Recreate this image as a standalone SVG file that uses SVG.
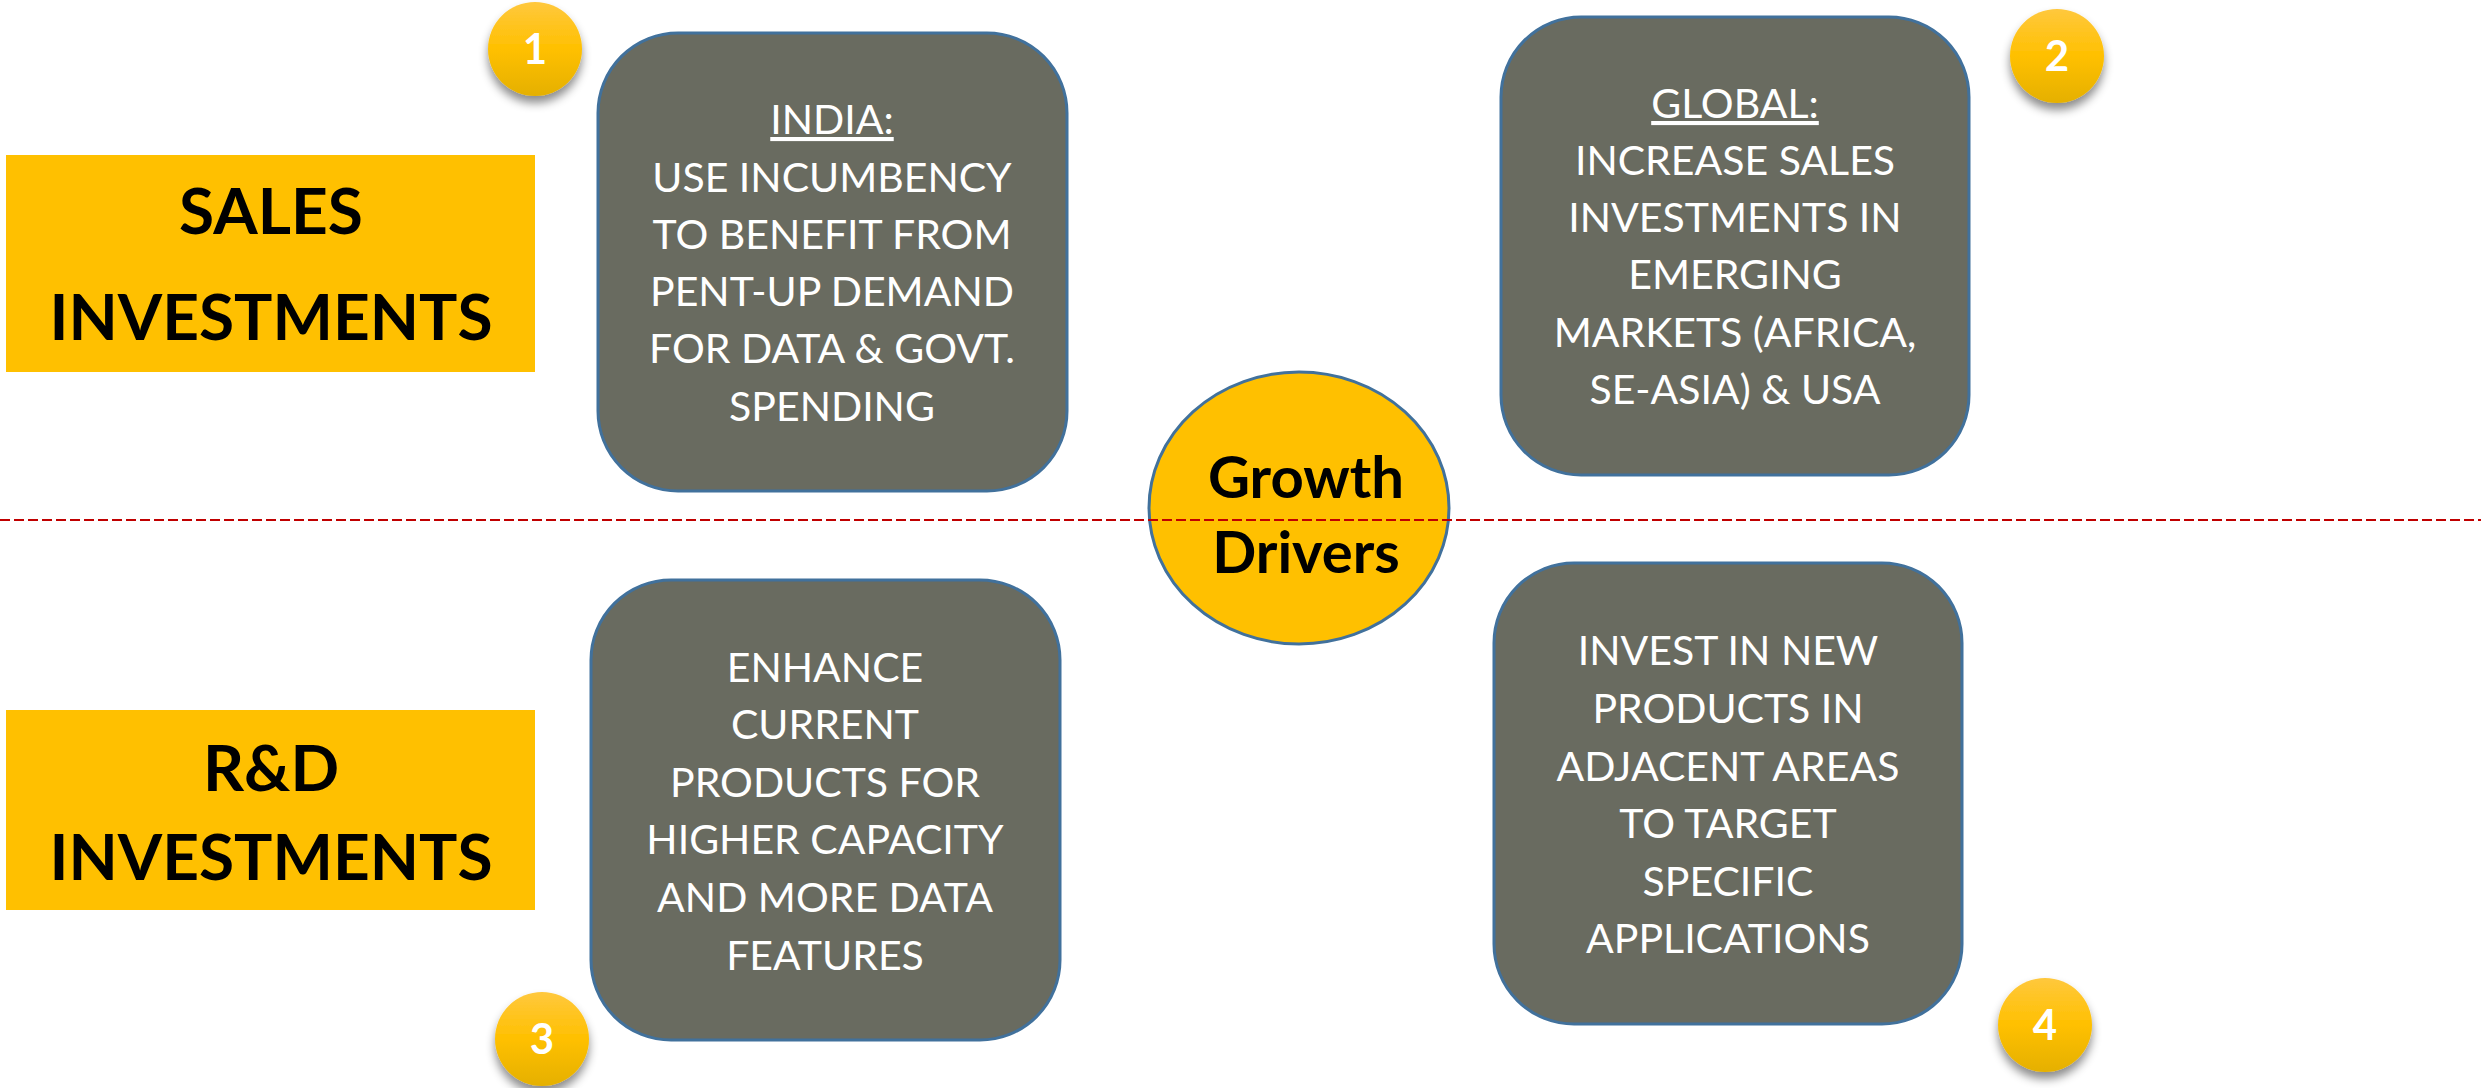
<svg xmlns="http://www.w3.org/2000/svg" width="2481" height="1088" viewBox="0 0 2481 1088">
<defs>
<style>
.lbl{fill:#FFC000}
.lbltxt{font-family:Lato,"Noto Sans",sans-serif;font-weight:bold;font-size:64px;fill:#000;text-anchor:middle}
.box{fill:#696B60;stroke:#41719C;stroke-width:3}
.bt{font-family:Lato,"Noto Sans",sans-serif;font-size:41px;fill:#fff;text-anchor:middle}
.num{font-family:Lato,"Noto Sans",sans-serif;font-weight:bold;font-size:42px;fill:#fff;text-anchor:middle}
.core{fill:#FFC000;stroke:#41719C;stroke-width:3}
.coretxt{font-family:Lato,"Noto Sans",sans-serif;font-weight:bold;font-size:58px;fill:#000;text-anchor:middle}
</style>
<linearGradient id="badgeGrad" x1="0" y1="0" x2="0" y2="1">
<stop offset="0" stop-color="#FFC83D"/>
<stop offset="0.5" stop-color="#FFC000"/>
<stop offset="1" stop-color="#E5B000"/>
</linearGradient>
<filter id="sh" x="-40%" y="-40%" width="180%" height="190%">
<feDropShadow dx="0" dy="7" stdDeviation="5" flood-color="#000" flood-opacity="0.45"/>
</filter>
</defs>
<rect width="2481" height="1088" fill="#fff"/>

<g id="sales-label">
<rect class="lbl" x="6" y="155" width="529" height="217"/>
<text class="lbltxt" x="271" y="234">SALES</text>
<text class="lbltxt" x="271" y="340">INVESTMENTS</text>
</g>

<g id="rd-label">
<rect class="lbl" x="6" y="710" width="529" height="200"/>
<text class="lbltxt" x="271" y="791">R&amp;D</text>
<text class="lbltxt" x="271" y="880">INVESTMENTS</text>
</g>

<g id="india">
<rect class="box" x="598" y="33" width="469" height="458" rx="80" ry="80"/>
<text class="bt" x="832" y="134" text-decoration="underline">INDIA:</text>
<text class="bt" x="832" y="192">USE INCUMBENCY</text>
<text class="bt" x="832" y="249">TO BENEFIT FROM</text>
<text class="bt" x="832" y="306">PENT-UP DEMAND</text>
<text class="bt" x="832" y="363">FOR DATA &amp; GOVT.</text>
<text class="bt" x="832" y="421">SPENDING</text>
</g>

<g id="global">
<rect class="box" x="1501" y="17" width="468" height="458" rx="80" ry="80"/>
<text class="bt" x="1735" y="118" text-decoration="underline">GLOBAL:</text>
<text class="bt" x="1735" y="175">INCREASE SALES</text>
<text class="bt" x="1735" y="232">INVESTMENTS IN</text>
<text class="bt" x="1735" y="289">EMERGING</text>
<text class="bt" x="1735" y="347">MARKETS (AFRICA,</text>
<text class="bt" x="1735" y="404">SE-ASIA) &amp; USA</text>
</g>

<g id="enhance">
<rect class="box" x="591" y="580" width="469" height="460" rx="80" ry="80"/>
<text class="bt" x="825" y="682">ENHANCE</text>
<text class="bt" x="825" y="739">CURRENT</text>
<text class="bt" x="825" y="797">PRODUCTS FOR</text>
<text class="bt" x="825" y="854">HIGHER CAPACITY</text>
<text class="bt" x="825" y="912">AND MORE DATA</text>
<text class="bt" x="825" y="970">FEATURES</text>
</g>

<g id="invest">
<rect class="box" x="1494" y="563" width="468" height="461" rx="80" ry="80"/>
<text class="bt" x="1728" y="665">INVEST IN NEW</text>
<text class="bt" x="1728" y="723">PRODUCTS IN</text>
<text class="bt" x="1728" y="781">ADJACENT AREAS</text>
<text class="bt" x="1728" y="838">TO TARGET</text>
<text class="bt" x="1728" y="896">SPECIFIC</text>
<text class="bt" x="1728" y="953">APPLICATIONS</text>
</g>

<g id="growth-drivers">
<ellipse class="core" cx="1299" cy="508" rx="150" ry="136"/>
<text class="coretxt" x="1306" y="498">Growth</text>
<text class="coretxt" x="1306" y="573">Drivers</text>
</g>

<g id="connectors">
<line x1="0" y1="520" x2="2481" y2="520" stroke="#C00000" stroke-width="2" stroke-dasharray="10,4"/>
</g>

<g id="badge1">
<circle cx="535" cy="49" r="47" fill="url(#badgeGrad)" filter="url(#sh)"/>
<text class="num" x="535" y="64">1</text>
</g>
<g id="badge2">
<circle cx="2057" cy="56" r="47" fill="url(#badgeGrad)" filter="url(#sh)"/>
<text class="num" x="2057" y="71">2</text>
</g>
<g id="badge3">
<circle cx="542" cy="1039" r="47" fill="url(#badgeGrad)" filter="url(#sh)"/>
<text class="num" x="542" y="1054">3</text>
</g>
<g id="badge4">
<circle cx="2045" cy="1025" r="47" fill="url(#badgeGrad)" filter="url(#sh)"/>
<text class="num" x="2045" y="1040">4</text>
</g>
</svg>
